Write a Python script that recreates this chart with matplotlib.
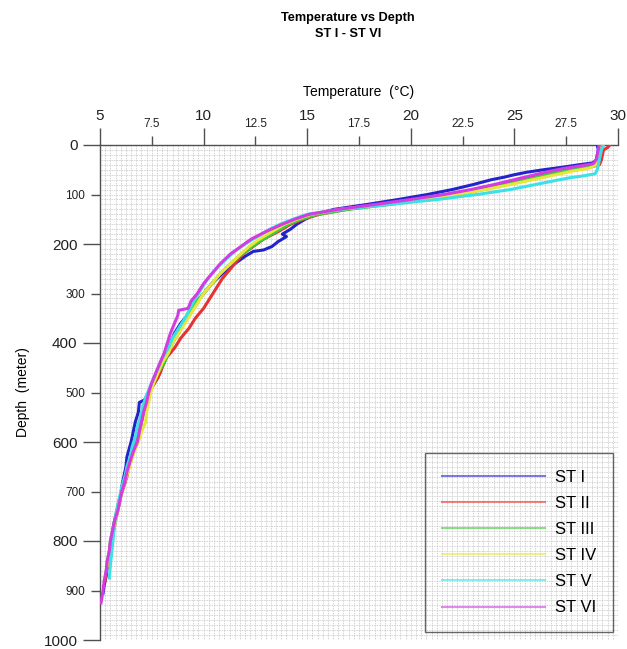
import numpy as np
import matplotlib
matplotlib.use("Agg")
import matplotlib.pyplot as plt

plt.rcParams['font.family'] = ['Liberation Sans', 'DejaVu Sans']

# ---------------- data ----------------
stations = ["ST I", "ST II", "ST III", "ST IV", "ST V", "ST VI"]
colors = ["#2323cc", "#e63232", "#3ccc3c", "#e6e63c", "#3ce0e6", "#d23ce0"]

d1 = [0, 10, 20, 30, 36, 40, 45, 50, 55, 60, 65, 70, 80, 90, 100, 110, 120, 130, 140, 150,
      160, 170, 180, 185, 195, 205, 212, 215, 225, 240, 260, 280, 300, 320, 340, 360, 380, 400, 420, 440,
      460, 475, 490, 505, 515, 520, 540, 560, 580, 600, 615, 630, 650, 670, 690, 710, 730, 750, 770, 790,
      810, 830, 850, 870, 890, 905]
t1 = [29.0, 29.05, 29.0, 28.95, 28.8, 28.1, 27.3, 26.4, 25.6, 25.0, 24.5, 23.9, 23.0, 22.0, 20.8, 19.4, 17.9, 16.3, 15.4, 14.9,
      14.5, 14.2, 13.8, 14.0, 13.6, 13.3, 12.9, 12.4, 12.0, 11.5, 10.9, 10.4, 10.0, 9.6, 9.3, 8.9, 8.6, 8.4, 8.2, 8.0,
      7.9, 7.7, 7.5, 7.3, 7.15, 6.9, 6.85, 6.7, 6.6, 6.5, 6.4, 6.3, 6.25, 6.15, 6.05, 6.0, 5.9, 5.75, 5.65, 5.6,
      5.5, 5.45, 5.35, 5.3, 5.2, 5.15]

d2 = [0, 5, 10, 20, 30, 40, 45, 50, 55, 60, 65, 70, 80, 90, 100, 110, 120, 130, 140, 150,
      160, 175, 190, 205, 220, 235, 250, 270, 290, 310, 330, 350, 370, 390, 410, 430, 450, 470, 490, 510,
      530, 550, 570, 590, 610, 630, 650, 670, 690, 710, 730, 750, 770, 790, 810, 830, 850, 880]
t2 = [29.6, 29.5, 29.3, 29.25, 29.2, 29.1, 28.6, 27.9, 27.1, 26.5, 26.0, 25.3, 24.3, 23.2, 21.8, 20.2, 18.6, 16.9, 15.6, 14.8,
      14.2, 13.6, 12.9, 12.4, 11.9, 11.6, 11.3, 10.9, 10.6, 10.3, 10.0, 9.6, 9.3, 8.9, 8.6, 8.2, 8.0, 7.8, 7.5, 7.3,
      7.15, 7.05, 6.95, 6.8, 6.7, 6.55, 6.4, 6.3, 6.15, 6.0, 5.9, 5.8, 5.7, 5.6, 5.5, 5.45, 5.35, 5.25]

d3 = [0, 10, 20, 30, 40, 45, 50, 55, 60, 70, 80, 90, 100, 110, 120, 130, 140, 150, 160, 170,
      180, 195, 210, 225, 240, 260, 280, 300, 320, 340, 360, 380, 400, 420, 440, 460, 480, 500, 520, 540,
      560, 580, 600, 620, 640, 660, 680, 700, 720, 740, 760, 780, 800, 820, 840, 860]
t3 = [29.2, 29.15, 29.1, 29.05, 28.9, 28.5, 27.6, 27.0, 26.6, 25.6, 24.6, 23.5, 22.3, 20.7, 19.0, 17.0, 15.5, 14.7, 14.1, 13.7,
      13.3, 12.7, 12.2, 11.7, 11.3, 10.8, 10.4, 10.0, 9.6, 9.3, 9.0, 8.8, 8.5, 8.3, 8.1, 7.8, 7.6, 7.4, 7.25, 7.1,
      7.0, 6.9, 6.75, 6.6, 6.45, 6.3, 6.15, 6.05, 5.9, 5.8, 5.7, 5.6, 5.5, 5.45, 5.35, 5.3]

d4 = [0, 10, 20, 30, 40, 47, 52, 60, 70, 80, 90, 100, 110, 120, 130, 140, 150, 160, 175, 190,
      205, 220, 240, 260, 280, 300, 320, 340, 360, 380, 400, 420, 440, 460, 480, 500, 520, 540, 560, 580,
      600, 620, 640, 660, 680, 700, 720, 740, 760, 780, 800, 820, 850]
t4 = [29.1, 29.1, 29.05, 29.0, 28.95, 28.6, 27.9, 27.0, 25.9, 24.8, 23.6, 22.2, 20.6, 18.7, 16.6, 15.2, 14.5, 13.9, 13.3, 12.7,
      12.2, 11.8, 11.3, 10.8, 10.4, 10.0, 9.7, 9.4, 9.1, 8.8, 8.5, 8.3, 8.0, 7.8, 7.6, 7.45, 7.35, 7.25, 7.2, 7.0,
      6.85, 6.65, 6.5, 6.35, 6.2, 6.05, 5.95, 5.85, 5.75, 5.65, 5.55, 5.45, 5.35]

d5 = [0, 10, 20, 30, 40, 50, 58, 62, 66, 70, 75, 80, 90, 100, 110, 120, 130, 140, 150, 160,
      170, 185, 200, 215, 230, 250, 270, 290, 310, 330, 350, 370, 390, 410, 430, 450, 470, 490, 510, 530,
      550, 570, 590, 610, 630, 650, 670, 690, 710, 730, 750, 770, 790, 810, 830, 850, 875]
t5 = [29.3, 29.2, 29.15, 29.1, 29.05, 29.0, 28.9, 28.4, 27.7, 27.2, 26.6, 26.0, 24.8, 23.2, 21.3, 19.0, 16.6, 15.0, 14.3, 13.7,
      13.2, 12.6, 12.0, 11.5, 11.1, 10.6, 10.2, 9.9, 9.6, 9.35, 9.1, 8.8, 8.5, 8.3, 8.0, 7.8, 7.6, 7.4, 7.2, 7.05,
      6.95, 6.8, 6.7, 6.55, 6.45, 6.3, 6.2, 6.05, 5.95, 5.85, 5.75, 5.7, 5.65, 5.6, 5.55, 5.5, 5.45]

d6 = [0, 10, 20, 30, 38, 42, 48, 55, 60, 70, 80, 90, 100, 110, 120, 130, 140, 150, 160, 175,
      190, 205, 220, 240, 260, 280, 300, 315, 330, 334, 345, 360, 380, 400, 420, 440, 460, 480, 500, 520,
      540, 560, 580, 600, 620, 640, 660, 680, 700, 720, 740, 760, 780, 800, 820, 840, 860, 880, 900, 925]
t6 = [29.1, 29.05, 29.0, 28.95, 28.8, 28.2, 27.3, 26.5, 26.0, 25.0, 24.0, 22.9, 21.6, 20.0, 18.3, 16.5, 15.1, 14.4, 13.8, 13.0,
      12.3, 11.8, 11.3, 10.8, 10.4, 10.0, 9.7, 9.4, 9.25, 8.8, 8.75, 8.6, 8.4, 8.25, 8.1, 7.9, 7.7, 7.5, 7.35, 7.25,
      7.1, 7.0, 6.9, 6.8, 6.6, 6.45, 6.3, 6.2, 6.05, 5.95, 5.85, 5.7, 5.6, 5.5, 5.45, 5.35, 5.3, 5.2, 5.15, 5.05]

depths = [d1, d2, d3, d4, d5, d6]
temps = [t1, t2, t3, t4, t5, t6]

x_major = [5, 10, 15, 20, 25, 30]
x_minor = [7.5, 12.5, 17.5, 22.5, 27.5]
y_major = [0, 200, 400, 600, 800, 1000]
y_minor = [100, 300, 500, 700, 900]

# ---------------- figure ----------------
fig = plt.figure(figsize=(6.27, 6.49), dpi=100)
ax = fig.add_axes([100 / 627, 1 - 640 / 649, 518 / 627, 495 / 649])

ax.set_xlim(5, 30)
ax.set_ylim(1000, 0)

# fine dotted grid
for gx in np.arange(5, 30.001, 0.25):
    ax.axvline(gx, color="#c4c4c4", lw=0.6, ls=(0, (1, 1)), zorder=0)
for gy in np.arange(0, 1000.001, 10):
    ax.axhline(gy, color="#c4c4c4", lw=0.6, ls=(0, (1, 1)), zorder=0)

for d, t, c, name in zip(depths, temps, colors, stations):
    ax.plot(t, d, color=c, lw=2.2, label=name, zorder=3, solid_joinstyle="round")

# axes / ticks
ax.xaxis.tick_top()
ax.xaxis.set_label_position("top")
ax.set_xticks(x_major)
ax.set_xticks(x_minor, minor=True)
ax.set_xticklabels([str(v) for v in x_major])
ax.set_xticklabels([str(v) for v in x_minor], minor=True)
ax.set_yticks(y_major)
ax.set_yticks(y_minor, minor=True)
ax.set_yticklabels([str(v) for v in y_major])
ax.set_yticklabels([str(v) for v in y_minor], minor=True)

ax.tick_params(which="major", length=12.2, width=1, color="#505050", labelsize=11, pad=4,
               labelcolor="#222222")
ax.tick_params(which="minor", length=6.5, width=1, color="#505050", labelsize=8.5, pad=4,
               labelcolor="#222222")

for s in ["bottom", "right"]:
    ax.spines[s].set_visible(False)
for s in ["top", "left"]:
    ax.spines[s].set_color("#505050")
    ax.spines[s].set_linewidth(1)

ax.set_xlabel("Temperature  (\u00b0C)", fontsize=10)
ax.xaxis.set_label_coords(0.5, 1 + (145 - 96) / 495)
ax.set_ylabel("Depth  (meter)", fontsize=10)
ax.yaxis.set_label_coords(-0.135, 0.5)

fig.text(348 / 627, 1 - 18 / 649, "Temperature vs Depth", ha="center", va="center",
         fontsize=9.2, fontweight="bold")
fig.text(348 / 627, 1 - 34 / 649, "ST I - ST VI", ha="center", va="center",
         fontsize=9.2, fontweight="bold")

leg = ax.legend(loc="lower right", bbox_to_anchor=(0.99, 0.016), fontsize=12,
                handlelength=6.2, handletextpad=0.6, labelspacing=0.67, borderpad=1.0,
                borderaxespad=0, frameon=True, fancybox=False, edgecolor="#404040")
frame = leg.get_frame()
frame.set_facecolor("none")
frame.set_edgecolor("#404040")
frame.set_linewidth(1)
for h in leg.legend_handles:
    h.set_linewidth(1.5)
    h.set_alpha(0.6)

fig.savefig("out.png", dpi=100)
